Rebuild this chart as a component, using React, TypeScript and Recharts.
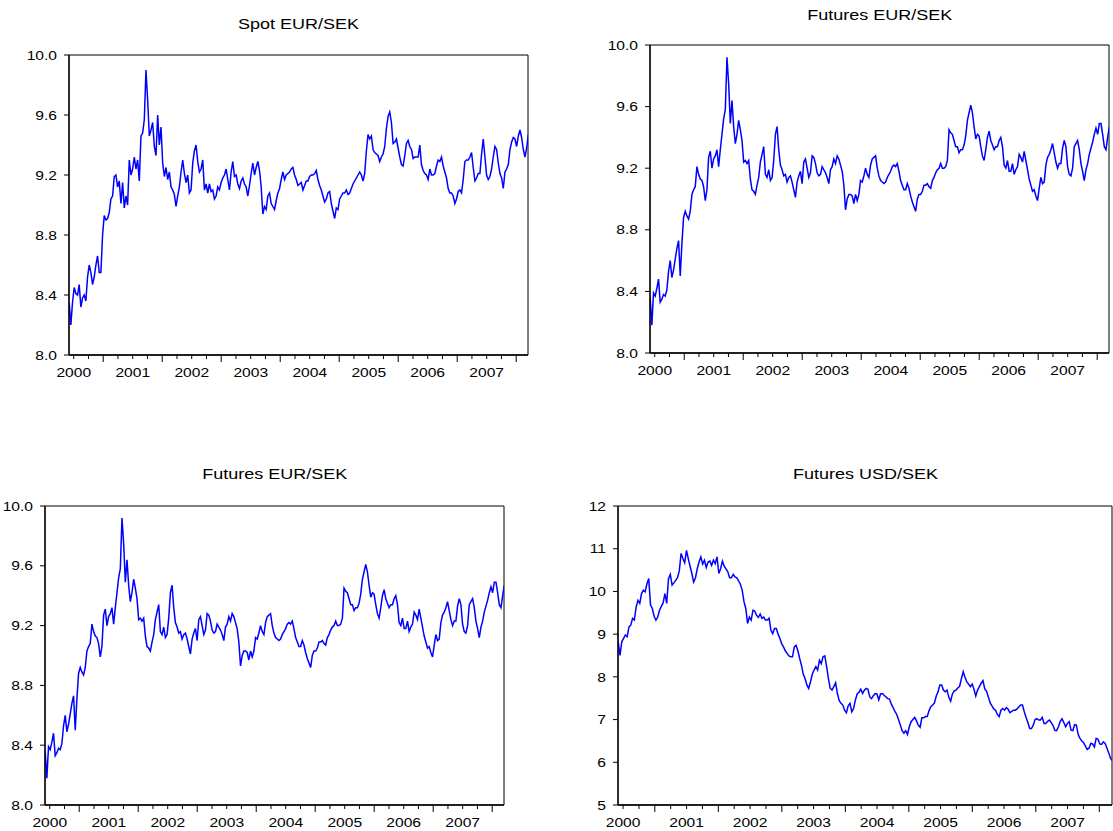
import React from 'react';
import { LineChart, Line, XAxis, YAxis, ReferenceArea } from 'recharts';

// ---- time axis (fractional years) ----
const T0 = 2000.423;
const STEP = 0.0283;
const X_DOMAIN: [number, number] = [2000.42, 2008.2];
const quarterTicks = [
  2000.5, 2000.75, 2001, 2001.25, 2001.5, 2001.75, 2002, 2002.25, 2002.5, 2002.75,
  2003, 2003.25, 2003.5, 2003.75, 2004, 2004.25, 2004.5, 2004.75, 2005, 2005.25,
  2005.5, 2005.75, 2006, 2006.25, 2006.5, 2006.75, 2007, 2007.25, 2007.5, 2007.75, 2008,
];
const yearLabels: Record<string, string> = {
  '2000.5': '2000', '2001.5': '2001', '2002.5': '2002', '2003.5': '2003',
  '2004.5': '2004', '2005.5': '2005', '2006.5': '2006', '2007.5': '2007',
};
const eurTicks = [8.0, 8.4, 8.8, 9.2, 9.6, 10.0];
const usdTicks = [5, 6, 7, 8, 9, 10, 11, 12];

// ---- series values ----
const spotEurSek = [
  8.35, 8.20, 8.35, 8.45, 8.41, 8.40, 8.47, 8.32, 8.38, 8.40,
  8.36, 8.52, 8.60, 8.55, 8.47, 8.52, 8.60, 8.66, 8.55, 8.55,
  8.80, 8.93, 8.90, 8.91, 8.95, 9.04, 9.06, 9.19, 9.20, 9.12,
  9.16, 9.01, 9.15, 8.98, 9.06, 9.00, 9.30, 9.20, 9.24, 9.32,
  9.24, 9.30, 9.16, 9.46, 9.48, 9.57, 9.90, 9.70, 9.46, 9.50,
  9.55, 9.39, 9.33, 9.60, 9.40, 9.52, 9.28, 9.19, 9.25, 9.17,
  9.22, 9.12, 9.10, 9.07, 8.99, 9.06, 9.12, 9.22, 9.30, 9.21,
  9.15, 9.20, 9.08, 9.10, 9.28, 9.36, 9.40, 9.29, 9.22, 9.24,
  9.30, 9.10, 9.14, 9.08, 9.14, 9.09, 9.10, 9.04, 9.06, 9.12,
  9.10, 9.15, 9.18, 9.20, 9.24, 9.17, 9.10, 9.22, 9.29, 9.19,
  9.20, 9.14, 9.11, 9.16, 9.18, 9.14, 9.12, 9.06, 9.13, 9.21,
  9.28, 9.20, 9.25, 9.29, 9.23, 9.12, 8.94, 8.99, 8.97, 9.06,
  9.08, 9.01, 8.99, 8.97, 9.03, 9.08, 9.11, 9.17, 9.22, 9.17,
  9.20, 9.21, 9.22, 9.24, 9.25, 9.20, 9.17, 9.13, 9.14,
  9.15, 9.10, 9.13, 9.16, 9.16, 9.19, 9.20, 9.20, 9.21, 9.23,
  9.17, 9.13, 9.10, 9.06, 9.02, 9.04, 9.08, 9.09, 9.01, 8.96,
  8.91, 8.98, 8.97, 9.04, 9.06, 9.08, 9.08, 9.10, 9.07, 9.08,
  9.11, 9.14, 9.16, 9.18, 9.20, 9.22, 9.20, 9.16, 9.21, 9.36,
  9.47, 9.44, 9.46, 9.37, 9.35, 9.34, 9.33, 9.29, 9.32, 9.34,
  9.39, 9.51, 9.59, 9.62, 9.55, 9.41, 9.42, 9.44, 9.38, 9.32,
  9.27, 9.26, 9.33, 9.41, 9.43, 9.39, 9.37, 9.31, 9.32, 9.32,
  9.32, 9.40, 9.27, 9.23, 9.21, 9.20, 9.17, 9.24, 9.20, 9.20,
  9.21, 9.26, 9.30, 9.29, 9.32, 9.26, 9.22, 9.18, 9.11, 9.08,
  9.08, 9.06, 9.01, 9.04, 9.09, 9.10, 9.08, 9.17, 9.29, 9.30,
  9.30, 9.32, 9.35, 9.25, 9.16, 9.18, 9.21, 9.21, 9.34, 9.44,
  9.32, 9.20, 9.17, 9.19, 9.24, 9.32, 9.39, 9.37, 9.28, 9.21,
  9.18, 9.11, 9.22, 9.24, 9.27, 9.37, 9.42, 9.45, 9.44, 9.39,
  9.46, 9.50, 9.45, 9.37, 9.32, 9.38, 9.47,
];

const futEurSek = [
  8.36, 8.18, 8.39, 8.37, 8.42, 8.48, 8.33, 8.35, 8.38, 8.37,
  8.41, 8.53, 8.60, 8.49, 8.54, 8.61, 8.68, 8.73, 8.50, 8.71,
  8.88, 8.92, 8.89, 8.87, 8.92, 9.03, 9.06, 9.08, 9.21, 9.16,
  9.13, 9.12, 9.08, 8.99, 9.06, 9.27, 9.31, 9.20, 9.26, 9.28,
  9.32, 9.21, 9.32, 9.42, 9.52, 9.58, 9.92, 9.75, 9.49, 9.64,
  9.47, 9.36, 9.42, 9.51, 9.45, 9.38, 9.24, 9.25, 9.23, 9.25,
  9.13, 9.06, 9.05, 9.03, 9.09, 9.14, 9.24, 9.29, 9.34, 9.16,
  9.14, 9.19, 9.12, 9.14, 9.25, 9.42, 9.47, 9.32, 9.22, 9.19,
  9.15, 9.16, 9.11, 9.14, 9.15, 9.11, 9.06, 9.01, 9.11, 9.15,
  9.18, 9.10, 9.24, 9.26, 9.20, 9.14, 9.17, 9.28, 9.27, 9.23,
  9.17, 9.15, 9.16, 9.21, 9.19, 9.17, 9.14, 9.10, 9.19, 9.21,
  9.26, 9.23, 9.28, 9.26, 9.22, 9.18, 9.09, 8.93, 9.00, 9.03,
  9.03, 9.02, 8.97, 9.03, 8.99, 9.03, 9.12, 9.11, 9.15, 9.20,
  9.16, 9.14, 9.22, 9.26, 9.27, 9.28, 9.20, 9.15, 9.12, 9.11,
  9.10, 9.11, 9.14, 9.16, 9.18, 9.21, 9.22, 9.21, 9.23, 9.18,
  9.12, 9.09, 9.06, 9.06, 9.10, 9.07, 9.02, 8.98, 8.95, 8.92,
  9.00, 9.03, 9.03, 9.05, 9.09, 9.09, 9.10, 9.08, 9.07, 9.12,
  9.14, 9.17, 9.19, 9.20, 9.23, 9.20, 9.20, 9.21, 9.25, 9.45,
  9.43, 9.42, 9.38, 9.34, 9.34, 9.30, 9.32, 9.32, 9.35, 9.41,
  9.51, 9.56, 9.61, 9.56, 9.47, 9.39, 9.42, 9.41, 9.34, 9.28,
  9.25, 9.32, 9.40, 9.44, 9.38, 9.35, 9.32, 9.34, 9.34, 9.38,
  9.40, 9.34, 9.22, 9.20, 9.25, 9.18, 9.18, 9.23, 9.16, 9.19,
  9.21, 9.29, 9.27, 9.24, 9.31, 9.25, 9.19, 9.13, 9.09, 9.05,
  9.06, 9.02, 8.99, 9.07, 9.14, 9.10, 9.11, 9.22, 9.27, 9.29,
  9.32, 9.36, 9.30, 9.24, 9.20, 9.23, 9.23, 9.33, 9.38, 9.34,
  9.21, 9.16, 9.15, 9.20, 9.34, 9.36, 9.38, 9.32, 9.23, 9.18,
  9.12, 9.19, 9.23, 9.29, 9.33, 9.37, 9.42, 9.46, 9.42, 9.49,
  9.49, 9.42, 9.34, 9.32, 9.40, 9.47,
];

const futUsdSek = [
  8.82, 8.50, 8.82, 8.90, 8.98, 8.94, 9.17, 9.21, 9.37, 9.33,
  9.64, 9.79, 9.72, 9.95, 10.03, 9.99, 10.18, 10.30, 9.68, 9.60,
  9.42, 9.33, 9.40, 9.56, 9.65, 9.73, 9.95, 9.72, 10.30, 10.40,
  10.15, 10.20, 10.26, 10.32, 10.48, 10.89, 10.77, 10.67, 10.96, 10.77,
  10.59, 10.42, 10.22, 10.32, 10.53, 10.69, 10.81, 10.64, 10.73, 10.56,
  10.69, 10.71, 10.61, 10.73, 10.65, 10.81, 10.42, 10.53, 10.71, 10.59,
  10.53, 10.46, 10.32, 10.32, 10.40, 10.34, 10.32, 10.25, 10.17, 10.03,
  9.76, 9.60, 9.25, 9.40, 9.33, 9.56, 9.54, 9.44, 9.39, 9.47,
  9.37, 9.40, 9.33, 9.33, 9.37, 9.09, 9.01, 9.13, 9.13, 9.00,
  8.90, 8.77, 8.70, 8.61, 8.55, 8.49, 8.47, 8.47, 8.70, 8.74,
  8.61, 8.43, 8.27, 8.06, 7.96, 7.81, 7.73, 7.88, 8.06, 8.16,
  8.24, 8.16, 8.39, 8.31, 8.47, 8.49, 8.24, 7.96, 7.73, 7.69,
  7.77, 7.86, 7.61, 7.44, 7.38, 7.34, 7.22, 7.16, 7.32,
  7.38, 7.18, 7.26, 7.46, 7.60, 7.64, 7.71, 7.61, 7.69, 7.73,
  7.71, 7.53, 7.49, 7.56, 7.61, 7.60, 7.46, 7.60, 7.61, 7.57,
  7.53, 7.49, 7.48, 7.36, 7.28, 7.19, 7.12, 7.00, 6.87, 6.74,
  6.68, 6.74, 6.65, 6.83, 6.95, 7.00, 7.05, 6.97, 6.87, 6.82,
  7.04, 7.04, 7.07, 7.07, 7.21, 7.30, 7.34, 7.39, 7.55, 7.65,
  7.81, 7.81, 7.69, 7.65, 7.69, 7.52, 7.43, 7.60, 7.67, 7.69,
  7.74, 7.78, 7.96, 8.12, 7.99, 7.88, 7.83, 7.77, 7.83, 7.71,
  7.55, 7.69, 7.77, 7.85, 7.91, 7.72, 7.66, 7.53, 7.39, 7.32,
  7.25, 7.22, 7.12, 7.07, 7.22, 7.26, 7.22, 7.28, 7.24, 7.16,
  7.19, 7.22, 7.22, 7.25, 7.30, 7.34, 7.34, 7.18, 7.05, 6.93,
  6.79, 6.79, 6.87, 7.00, 7.02, 6.99, 6.99, 7.05, 6.91, 6.91,
  6.96, 6.99, 6.93, 6.86, 6.75, 6.74, 6.83, 6.96, 7.02, 6.93,
  6.83, 6.91, 6.95, 6.75, 6.74, 6.88, 6.87, 6.65, 6.56, 6.50,
  6.46, 6.38, 6.30, 6.33, 6.44, 6.43, 6.36, 6.56, 6.54, 6.43,
  6.42, 6.48, 6.44, 6.33, 6.22, 6.09, 6.04,
];

const FONT = '"Liberation Sans", Arial, Helvetica, sans-serif';

function toRows(values: number[]) {
  return values.map((v, i) => ({ t: +(T0 + i * STEP).toFixed(4), v }));
}

const XTick = (props: any) => {
  const { x, y, payload } = props;
  const val = payload.value as number;
  const isYear = Math.abs(val - Math.round(val)) < 1e-6;
  const label = yearLabels[String(val)];
  return (
    <g>
      <line x1={x} x2={x} y1={y} y2={y + (isYear ? 7 : 4)} stroke="#000" strokeWidth={1} />
      {label && (
        <text
          transform={`translate(${x},${y + 22}) scale(1.2,1)`}
          textAnchor="middle"
          fontSize={13}
          fontFamily={FONT}
          fill="#000"
        >
          {label}
        </text>
      )}
    </g>
  );
};

const YTick = (props: any) => {
  const { x, y, payload, dec } = props;
  const val = payload.value as number;
  return (
    <g>
      <line x1={x - 5} x2={x} y1={y} y2={y} stroke="#000" strokeWidth={1} />
      <text
        transform={`translate(${x - 12},${y}) scale(1.2,1)`}
        textAnchor="end"
        dy="0.36em"
        fontSize={13}
        fontFamily={FONT}
        fill="#000"
      >
        {val.toFixed(dec)}
      </text>
    </g>
  );
};

type PanelProps = {
  left: number;
  top: number;
  width: number;
  height: number;
  mt: number;
  mr: number;
  ml: number;
  yWidth: number;
  values: number[];
  yDomain: [number, number];
  yTicks: number[];
  dec: number;
};

const Panel = ({ left, top, width, height, mt, mr, ml, yWidth, values, yDomain, yTicks, dec }: PanelProps) => (
  <div style={{ position: 'absolute', left, top }}>
    <LineChart
      width={width}
      height={height}
      data={toRows(values)}
      margin={{ top: mt, right: mr, left: ml, bottom: 0 }}
    >
      <XAxis
        type="number"
        dataKey="t"
        domain={X_DOMAIN}
        ticks={quarterTicks}
        interval={0}
        tickSize={0}
        tickMargin={0}
        tickLine={false}
        tick={<XTick />}
        axisLine={{ stroke: '#000', strokeWidth: 1.3 }}
        height={30}
        allowDataOverflow
      />
      <YAxis
        type="number"
        domain={yDomain}
        ticks={yTicks}
        interval={0}
        tickSize={0}
        tickMargin={0}
        tickLine={false}
        tick={(p: any) => <YTick {...p} dec={dec} />}
        axisLine={{ stroke: '#000', strokeWidth: 1.3 }}
        width={yWidth}
        allowDataOverflow
      />
      <ReferenceArea
        x1={X_DOMAIN[0]}
        x2={X_DOMAIN[1]}
        y1={yDomain[0]}
        y2={yDomain[1]}
        fill="none"
        stroke="#000"
        strokeWidth={1}
        ifOverflow="visible"
      />
      <Line
        type="linear"
        dataKey="v"
        stroke="#0000ff"
        strokeWidth={1.5}
        dot={false}
        isAnimationActive={false}
      />
    </LineChart>
  </div>
);

const Title = ({ x, y, text }: { x: number; y: number; text: string }) => (
  <text
    transform={`translate(${x},${y}) scale(1.2,1)`}
    textAnchor="middle"
    fontSize={15}
    fontFamily={FONT}
    fill="#000"
  >
    {text}
  </text>
);

export default function App() {
  return (
    <div style={{ position: 'absolute', left: 0, top: 0, width: 1113, height: 831, background: '#fff', overflow: 'hidden' }}>
      <svg width={1113} height={831} style={{ position: 'absolute', left: 0, top: 0 }}>
        <Title x={298.5} y={29} text="Spot EUR/SEK" />
        <Title x={879.7} y={19.5} text="Futures EUR/SEK" />
        <Title x={274.8} y={479} text="Futures EUR/SEK" />
        <Title x={865.5} y={479} text="Futures USD/SEK" />
      </svg>
      <Panel left={0} top={0} width={530} height={385} mt={55} mr={2} ml={9} yWidth={60}
        values={spotEurSek} yDomain={[8, 10]} yTicks={eurTicks} dec={1} />
      <Panel left={590} top={0} width={521} height={383} mt={45} mr={2} ml={0} yWidth={60}
        values={futEurSek} yDomain={[8, 10]} yTicks={eurTicks} dec={1} />
      <Panel left={0} top={460} width={506} height={375} mt={46} mr={2} ml={0} yWidth={45}
        values={futEurSek} yDomain={[8, 10]} yTicks={eurTicks} dec={1} />
      <Panel left={560} top={460} width={553} height={375} mt={46} mr={1} ml={0} yWidth={58}
        values={futUsdSek} yDomain={[5, 12]} yTicks={usdTicks} dec={0} />
    </div>
  );
}
